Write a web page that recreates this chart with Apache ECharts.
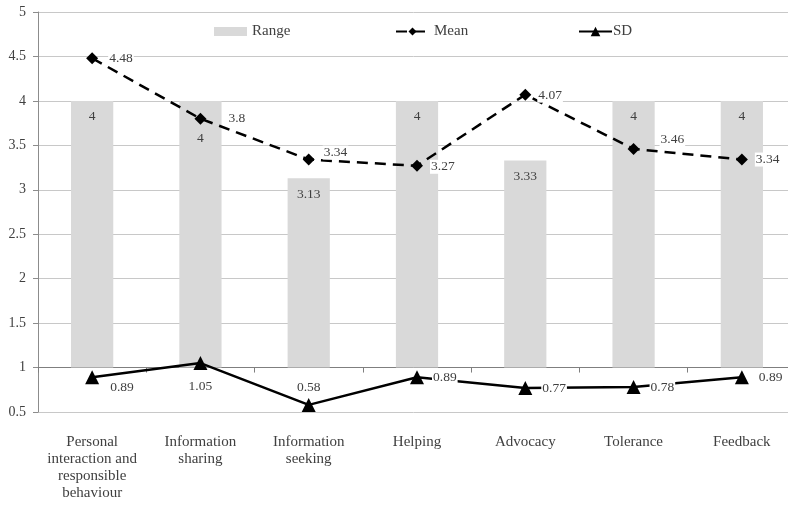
<!DOCTYPE html>
<html>
<head>
<meta charset="utf-8">
<script src="https://cdn.jsdelivr.net/npm/echarts@6/dist/echarts.min.js"></script>
<style>
  html, body { margin: 0; padding: 0; background: #fff; }
  #chart { width: 788px; height: 529px; }
</style>
</head>
<body>
<div id="chart"></div>
<script>
// Dimension names along the category axis
const categories = [
  'Personal\ninteraction and\nresponsible\nbehaviour',
  'Information\nsharing',
  'Information\nseeking',
  'Helping',
  'Advocacy',
  'Tolerance',
  'Feedback'
];
// Range of scores per dimension (bars drawn up from the axis crossing at 1)
const rangeValues = [4, 4, 3.13, 4, 3.33, 4, 4];
// Mean score per dimension
const meanValues = [4.48, 3.8, 3.34, 3.27, 4.07, 3.46, 3.34];
// Standard deviation per dimension
const sdValues = [0.89, 1.05, 0.58, 0.89, 0.77, 0.78, 0.89];
// Value-axis ticks
const yMin = 0.5, yMax = 5, yStep = 0.5;
const barBase = 1;

const FONT = 'Liberation Serif';
const TEXT = '#404040';

// Per-point label placement tweaks
const rangeLabelDist = [9, 31, 9, 9, 9, 9, 9];
const meanLabelOffset = [[5, 0], [16, 0], [3, -7], [2, 1], [1, 1], [15, -9], [2, 0]];
const sdLabelCfg = [
  { position: 'right', offset: [5, 10] },
  { position: 'bottom', offset: [0, 4] },
  { position: 'top', offset: [0, 2] },
  { position: 'right', offset: [3, 0] },
  { position: 'right', offset: [4, 0] },
  { position: 'right', offset: [4, 0] },
  { position: 'right', offset: [4, 0] }
];

const labelBase = {
  show: true, color: TEXT, fontFamily: FONT, fontSize: 13.5,
  backgroundColor: '#fff', padding: [0, 1]
};

const chart = echarts.init(document.getElementById('chart'), null, { renderer: 'canvas' });

const legendText = { color: TEXT, fontFamily: FONT, fontSize: 15 };

const option = {
  animation: false,
  backgroundColor: '#fff',
  grid: { left: 38, top: 12, width: 758, height: 400, containLabel: false, outerBoundsMode: 'none' },
  legend: [
    { data: [{ name: 'Range', icon: 'rect' }], left: 214, top: 24, padding: 0, itemWidth: 33, itemHeight: 9, textStyle: legendText },
    { data: ['Mean'], left: 395, top: 24, padding: 0, itemWidth: 33, itemHeight: 10, textStyle: legendText },
    { data: ['SD'], left: 578, top: 24, padding: 0, itemWidth: 33, itemHeight: 12, textStyle: Object.assign({}, legendText, { padding: [0, 0, 0, -4] }) }
  ],
  xAxis: [
    {
      type: 'category', data: categories, boundaryGap: true,
      axisLine: { show: false }, axisTick: { show: false },
      axisLabel: { color: TEXT, fontFamily: FONT, fontSize: 15, lineHeight: 17, margin: 22, interval: 0 }
    },
    {
      type: 'category', data: categories, boundaryGap: true, position: 'bottom', offset: 0,
      axisLine: { show: true, lineStyle: { color: '#7f7f7f', width: 1 } },
      axisTick: { show: true, length: 5, lineStyle: { color: '#7f7f7f' } },
      axisLabel: { show: false }
    }
  ],
  yAxis: {
    type: 'value', min: yMin, max: yMax, interval: yStep,
    axisLine: { show: true, lineStyle: { color: '#8c8c8c' } },
    axisTick: { show: true, length: 5, lineStyle: { color: '#8c8c8c' } },
    axisLabel: { color: TEXT, fontFamily: FONT, fontSize: 14, margin: 12 },
    splitLine: { show: true, lineStyle: { color: '#c8c8c8', width: 1 } }
  },
  series: [
    {
      name: 'Range', type: 'custom', xAxisIndex: 0,
      itemStyle: { color: '#d9d9d9' },
      encode: { x: 0, y: 1 },
      data: rangeValues.map((v, i) => [i, v]),
      z: 1,
      renderItem: function (params, api) {
        const i = api.value(0);
        const v = api.value(1);
        const top = api.coord([i, v]);
        const base = api.coord([i, barBase]);
        const w = api.size([1, 0])[0] * 0.39;
        return {
          type: 'rect',
          shape: { x: top[0] - w / 2, y: top[1], width: w, height: base[1] - top[1] },
          style: { fill: '#d9d9d9' },
          textContent: { style: { text: String(v), fill: TEXT, font: '13.5px ' + FONT } },
          textConfig: { position: 'insideTop', distance: rangeLabelDist[i] }
        };
      }
    },
    {
      name: 'Mean', type: 'line', xAxisIndex: 0,
      data: meanValues.map((v, i) => ({ value: v, label: { offset: meanLabelOffset[i] } })),
      symbol: 'diamond', symbolSize: 12,
      itemStyle: { color: '#000' },
      lineStyle: { color: '#000', width: 2.5, type: [11, 7] },
      label: Object.assign({}, labelBase, { position: 'right', distance: 5 }),
      z: 3
    },
    {
      name: 'SD', type: 'line', xAxisIndex: 0,
      data: sdValues.map((v, i) => ({ value: v, label: sdLabelCfg[i] })),
      symbol: 'triangle', symbolSize: 14,
      itemStyle: { color: '#000' },
      lineStyle: { color: '#000', width: 2.5 },
      label: Object.assign({}, labelBase, { distance: 5 }),
      z: 3
    }
  ]
};

chart.setOption(option);

// Move the boundary axis line up to the value where the bars start
const yLow = chart.convertToPixel({ yAxisIndex: 0 }, yMin);
const yBase = chart.convertToPixel({ yAxisIndex: 0 }, barBase);
chart.setOption({ xAxis: [{}, { offset: -(yLow - yBase) }] });
</script>
</body>
</html>
